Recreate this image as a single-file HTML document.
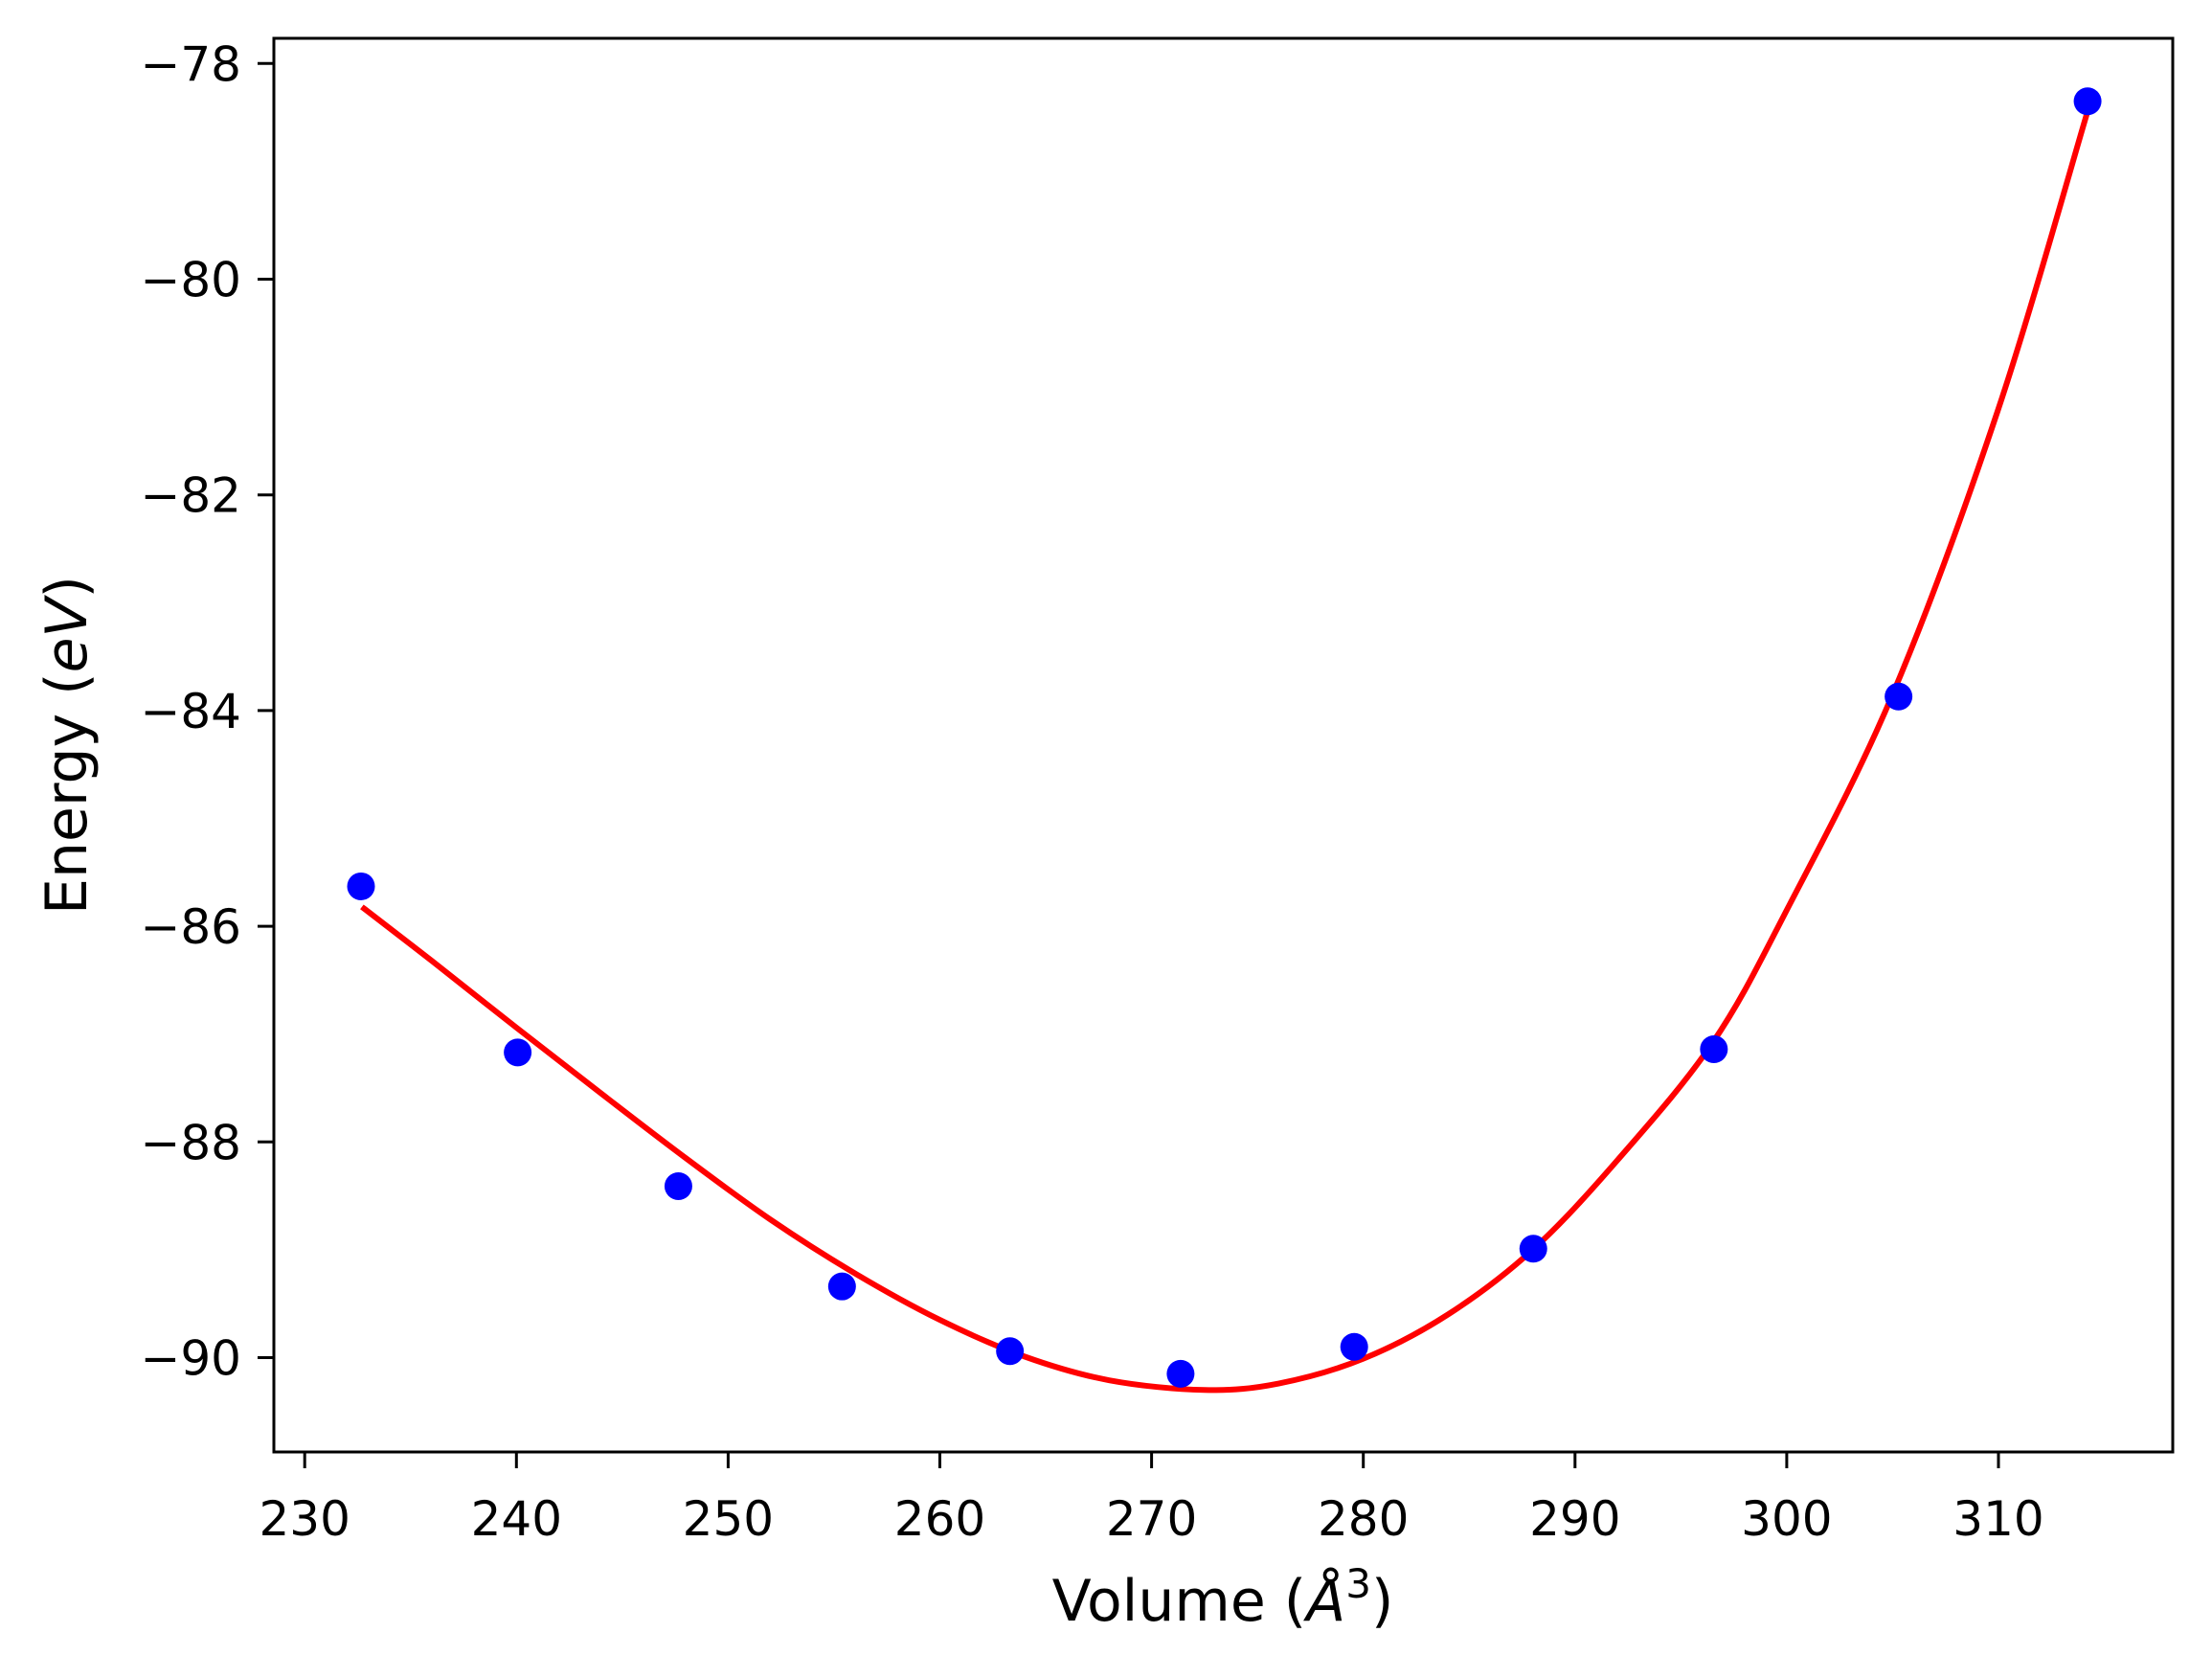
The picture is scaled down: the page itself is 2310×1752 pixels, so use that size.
<!DOCTYPE html>
<html><head><meta charset="utf-8"><style>
html,body{margin:0;padding:0;background:#fff;}
svg text{font-family:"DejaVu Sans","Liberation Sans",sans-serif;fill:#000;}
</style></head><body>
<svg id="chart" width="2310" height="1747" xmlns="http://www.w3.org/2000/svg">
<rect x="0" y="0" width="2310" height="1747" fill="#fff"/>
<g id="plot"></g>
<g id="axes"></g>
</svg>
<script>
const xTicks = [230,240,250,260,270,280,290,300,310];
const yTicks = [-78,-80,-82,-84,-86,-88,-90];
const volumes = [232.66,240.06,247.65,255.38,263.31,271.37,279.57,288.03,296.56,305.28,314.21];
const energies = [-85.63,-87.17,-88.41,-89.34,-89.94,-90.15,-89.90,-88.99,-87.14,-83.87,-78.35];
const fitV = [232.7,236,240,244,248,252,256,260,264,268,272.5,276,280,284,288,292,296.5,300,305,310,314.2];
const fitE = [-85.82,-86.32,-86.94,-87.55,-88.15,-88.72,-89.22,-89.65,-89.99,-90.21,-90.30,-90.24,-90.01,-89.60,-89.00,-88.17,-87.08,-85.85,-83.85,-81.20,-78.45];

const L=286,R=2269,T=40,B=1516;
const X=v=>318.2+(v-230)*22.11;
const Y=e=>66.3+(-78-e)*112.6;
const NS='http://www.w3.org/2000/svg';
const plot=document.getElementById('plot'), axes=document.getElementById('axes');
function mk(tag,attrs,parent){const el=document.createElementNS(NS,tag);for(const k in attrs)el.setAttribute(k,attrs[k]);parent.appendChild(el);return el;}

const pts=fitV.map((v,i)=>[X(v),Y(fitE[i])]);
let d='M'+pts[0][0]+','+pts[0][1];
for(let i=0;i<pts.length-1;i++){
  const p0=pts[Math.max(0,i-1)],p1=pts[i],p2=pts[i+1],p3=pts[Math.min(pts.length-1,i+2)];
  const c1=[p1[0]+(p2[0]-p0[0])/6,p1[1]+(p2[1]-p0[1])/6];
  const c2=[p2[0]-(p3[0]-p1[0])/6,p2[1]-(p3[1]-p1[1])/6];
  d+=' C'+c1+' '+c2+' '+p2;
}
const curve=mk('path',{d:d,fill:'none',stroke:'#ff0000','stroke-width':6,'stroke-linejoin':'round'},plot);



volumes.forEach((v,i)=>{
  const c=mk('circle',{cx:X(v),cy:Y(energies[i]),r:14.5,fill:'#0000ff'},plot);
  
  
});

const frame=mk('rect',{x:L,y:T,width:R-L,height:B-T,fill:'none',stroke:'#000','stroke-width':3},axes);



xTicks.forEach(t=>{
  const x=X(t);
  const tk=mk('line',{x1:x,x2:x,y1:B,y2:B+17,stroke:'#000','stroke-width':3},axes);
  
  
  const tx=mk('text',{x:x,y:1603,'text-anchor':'middle','font-size':50},axes);
  tx.textContent=t;
  
  
});
yTicks.forEach(t=>{
  const y=Y(t);
  const tk=mk('line',{x1:L-17,x2:L,y1:y,y2:y,stroke:'#000','stroke-width':3},axes);
  
  
  const tx=mk('text',{x:252,y:y+18,'text-anchor':'end','font-size':50},axes);
  tx.textContent='\u2212'+Math.abs(t);
  
  
});

const xl=mk('text',{x:1277,y:1692,'text-anchor':'middle','font-size':60},axes);
xl.innerHTML='Volume (<tspan font-style="italic">Å</tspan><tspan font-size="42" dy="-24">3</tspan><tspan dy="24">)</tspan>';



const yl=mk('text',{x:0,y:0,'text-anchor':'middle','font-size':60,transform:'translate(90,778) rotate(-90)'},axes);
yl.innerHTML='Energy (<tspan font-style="italic">eV</tspan>)';


</script>
</body></html>
